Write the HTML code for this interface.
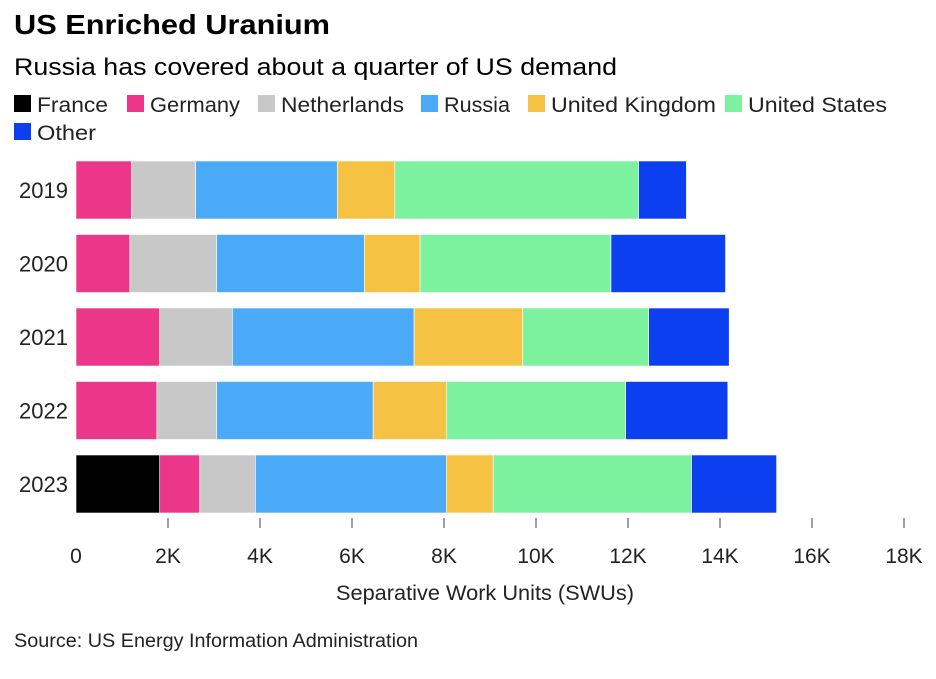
<!DOCTYPE html>
<html><head><meta charset="utf-8"><style>
body{margin:0;background:#fff;font-family:"Liberation Sans",sans-serif;}
svg text{font-family:"Liberation Sans",sans-serif;}
</style></head><body>
<svg width="936" height="674">
<text x="14" y="34" font-size="28" font-weight="bold" fill="#000" textLength="316" lengthAdjust="spacingAndGlyphs">US Enriched Uranium</text>
<text x="14" y="75" font-size="24" fill="#000" textLength="603" lengthAdjust="spacingAndGlyphs">Russia has covered about a quarter of US demand</text>
<g id="legend"></g>
<g id="bars"></g>
<g id="xaxis"></g>
<text x="336" y="600" font-size="21" fill="#222" textLength="298" lengthAdjust="spacingAndGlyphs">Separative Work Units (SWUs)</text>
<text x="14" y="647" font-size="19" fill="#222" textLength="404" lengthAdjust="spacingAndGlyphs">Source: US Energy Information Administration</text>
</svg>
<script>
const years=["2019","2020","2021","2022","2023"];
const seriesNames=["France","Germany","Netherlands","Russia","United Kingdom","United States","Other"];
const colors=["#000000","#eb368a","#c8c8c8","#4aaaf8","#f6c244","#7cf19e","#0b3ff0"];
const france=[0,0,0,0,1.82];
const germany=[1.21,1.17,1.82,1.76,0.87];
const netherlands=[1.39,1.89,1.58,1.30,1.21];
const russia=[3.08,3.21,3.95,3.40,4.15];
const uk=[1.25,1.21,2.36,1.59,1.02];
const us=[5.30,4.15,2.74,3.90,4.31];
const other=[1.04,2.49,1.75,2.22,1.85];
const ticks=[0,2,4,6,8,10,12,14,16,18];
const tickLabels=["0","2K","4K","6K","8K","10K","12K","14K","16K","18K"];
const NS="http://www.w3.org/2000/svg";
const x=v=>76+v*46;
const yTop=i=>161+i*73.5;
const bh=58;
function mk(tag,attrs,parent){const e=document.createElementNS(NS,tag);for(const k in attrs)e.setAttribute(k,attrs[k]);parent.appendChild(e);return e;}
const lg=document.getElementById('legend');
const legPos=[[14,104],[127,104],[258,104],[421,104],[528,104],[725,104],[14,132]];
const legW=[71,90,123,66,165,139,59];
seriesNames.forEach((n,i)=>{
 const g=mk('g',{},lg);
 
 
 mk('rect',{x:legPos[i][0],y:legPos[i][1]-9,width:17,height:17,fill:colors[i]},g);
 const t=mk('text',{x:legPos[i][0]+23,y:legPos[i][1]+8,'font-size':21,fill:'#222',textLength:legW[i],lengthAdjust:'spacingAndGlyphs'},g);t.textContent=n;
});
const series=[france,germany,netherlands,russia,uk,us,other];
const bg=document.getElementById('bars');
years.forEach((yr,i)=>{
 const lab=mk('text',{x:68,y:yTop(i)+bh/2+8,'font-size':22,'text-anchor':'end',fill:'#222'},bg);
 
 
 lab.textContent=yr;
 let cum=0;
 series.forEach((s,j)=>{
  const v=s[i];
  if(v>0){
   const r=mk('rect',{x:x(cum),y:yTop(i),width:x(cum+v)-x(cum),height:bh,fill:colors[j],stroke:'#fff','stroke-width':0.6},bg);
   
   
  }
  cum+=v;
 });
});
const ax=document.getElementById('xaxis');
ticks.forEach((t,i)=>{
 if(t>0){const l=mk('line',{x1:x(t),x2:x(t),y1:518,y2:528,stroke:'#444','stroke-width':1},ax);
 
 }
 const tx=mk('text',{x:x(t),y:563,'font-size':21,'text-anchor':'middle',fill:'#222'},ax);
 
 
 tx.textContent=tickLabels[i];
});
</script>
</body></html>
